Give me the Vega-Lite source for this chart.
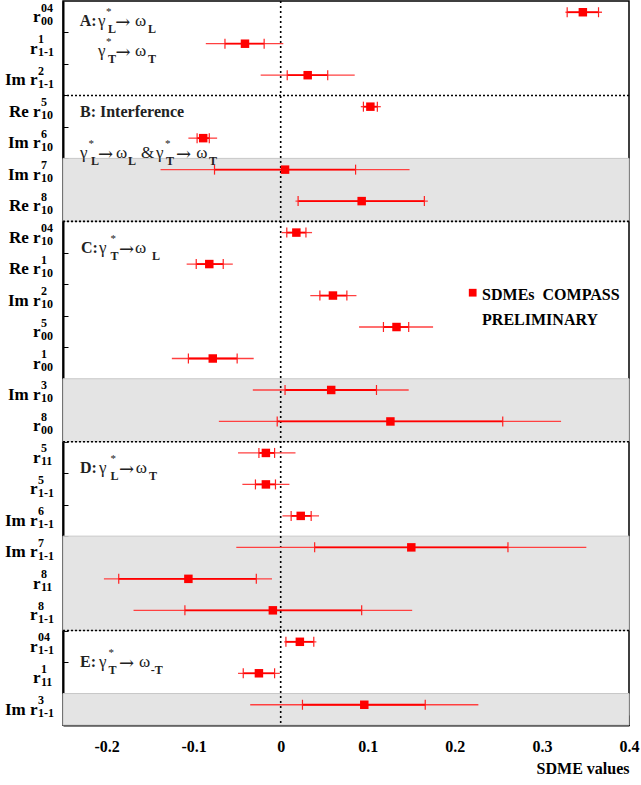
{
  "$schema": "https://vega.github.io/schema/vega-lite/v6.json",
  "autosize": "none",
  "width": 566,
  "height": 724,
  "padding": {"left": 63, "top": 1, "right": 12, "bottom": 60},
  "background": "white",
  "config": {
    "font": "Liberation Serif",
    "view": {"stroke": "#000", "strokeWidth": 1.5}
  },
  "datasets": {
    "sdme": [
      {"n": 0, "pre": "r", "sup": "04", "sub": "00", "v": 0.347, "slo": 0.329, "shi": 0.365, "tlo": 0.327, "thi": 0.369},
      {"n": 1, "pre": "r", "sup": "1", "sub": "1-1", "v": -0.041, "slo": -0.064, "shi": -0.019, "tlo": -0.086, "thi": 0.003},
      {"n": 2, "pre": "Im r", "sup": "2", "sub": "1-1", "v": 0.031, "slo": 0.0075, "shi": 0.054, "tlo": -0.023, "thi": 0.085},
      {"n": 3, "pre": "Re r", "sup": "5", "sub": "10", "v": 0.103, "slo": 0.095, "shi": 0.111, "tlo": 0.092, "thi": 0.115},
      {"n": 4, "pre": "Im r", "sup": "6", "sub": "10", "v": -0.089, "slo": -0.096, "shi": -0.082, "tlo": -0.106, "thi": -0.073},
      {"n": 5, "pre": "Im r", "sup": "7", "sub": "10", "v": 0.005, "slo": -0.076, "shi": 0.086, "tlo": -0.138, "thi": 0.148},
      {"n": 6, "pre": "Re r", "sup": "8", "sub": "10", "v": 0.093, "slo": 0.020, "shi": 0.165, "tlo": 0.017, "thi": 0.169},
      {"n": 7, "pre": "Re r", "sup": "04", "sub": "10", "v": 0.018, "slo": 0.007, "shi": 0.029, "tlo": 0.001, "thi": 0.036},
      {"n": 8, "pre": "Re r", "sup": "1", "sub": "10", "v": -0.082, "slo": -0.097, "shi": -0.066, "tlo": -0.108, "thi": -0.055},
      {"n": 9, "pre": "Im r", "sup": "2", "sub": "10", "v": 0.060, "slo": 0.045, "shi": 0.076, "tlo": 0.034, "thi": 0.087},
      {"n": 10, "pre": "r", "sup": "5", "sub": "00", "v": 0.133, "slo": 0.118, "shi": 0.147, "tlo": 0.090, "thi": 0.175},
      {"n": 11, "pre": "r", "sup": "1", "sub": "00", "v": -0.078, "slo": -0.106, "shi": -0.050, "tlo": -0.125, "thi": -0.031},
      {"n": 12, "pre": "Im r", "sup": "3", "sub": "10", "v": 0.058, "slo": 0.005, "shi": 0.110, "tlo": -0.032, "thi": 0.147},
      {"n": 13, "pre": "r", "sup": "8", "sub": "00", "v": 0.126, "slo": -0.004, "shi": 0.255, "tlo": -0.071, "thi": 0.322},
      {"n": 14, "pre": "r", "sup": "5", "sub": "11", "v": -0.017, "slo": -0.025, "shi": -0.007, "tlo": -0.049, "thi": 0.017},
      {"n": 15, "pre": "r", "sup": "5", "sub": "1-1", "v": -0.017, "slo": -0.029, "shi": -0.006, "tlo": -0.044, "thi": 0.010},
      {"n": 16, "pre": "Im r", "sup": "6", "sub": "1-1", "v": 0.023, "slo": 0.012, "shi": 0.035, "tlo": 0.002, "thi": 0.044},
      {"n": 17, "pre": "Im r", "sup": "7", "sub": "1-1", "v": 0.150, "slo": 0.039, "shi": 0.261, "tlo": -0.051, "thi": 0.351},
      {"n": 18, "pre": "r", "sup": "8", "sub": "11", "v": -0.106, "slo": -0.186, "shi": -0.028, "tlo": -0.203, "thi": -0.010},
      {"n": 19, "pre": "r", "sup": "8", "sub": "1-1", "v": -0.009, "slo": -0.110, "shi": 0.093, "tlo": -0.169, "thi": 0.151},
      {"n": 20, "pre": "r", "sup": "04", "sub": "1-1", "v": 0.022, "slo": 0.006, "shi": 0.038, "tlo": 0.004, "thi": 0.041},
      {"n": 21, "pre": "r", "sup": "1", "sub": "11", "v": -0.025, "slo": -0.043, "shi": -0.007, "tlo": -0.049, "thi": -0.001},
      {"n": 22, "pre": "Im r", "sup": "3", "sub": "1-1", "v": 0.096, "slo": 0.025, "shi": 0.166, "tlo": -0.035, "thi": 0.227}
    ],
    "shade": [
      {"from": 4.5, "to": 6.5},
      {"from": 11.5, "to": 13.5},
      {"from": 16.5, "to": 19.5},
      {"from": 21.5, "to": 22.5}
    ],
    "seps": [{"at": 2.5}, {"at": 6.5}, {"at": 13.5}, {"at": 19.5}],
    "zero": [{"at": 0}],
    "ann": [
      {"k": "b", "t": "A:", "x": -0.2308, "y": 0.304},
      {"k": "g", "t": "γ", "x": -0.2098, "y": 0.304},
      {"k": "p", "t": "*", "x": -0.2006, "y": 0.304},
      {"k": "s", "t": "L", "x": -0.1983, "y": 0.304},
      {"k": "a", "t": "→", "x": -0.1900, "y": 0.304},
      {"k": "g", "t": "ω", "x": -0.1672, "y": 0.304},
      {"k": "s", "t": "L", "x": -0.1523, "y": 0.304},
      {"k": "g", "t": "γ", "x": -0.2098, "y": 1.238},
      {"k": "p", "t": "*", "x": -0.2006, "y": 1.238},
      {"k": "s", "t": "T", "x": -0.1983, "y": 1.238},
      {"k": "a", "t": "→", "x": -0.1897, "y": 1.238},
      {"k": "g", "t": "ω", "x": -0.1672, "y": 1.238},
      {"k": "s", "t": "T", "x": -0.1523, "y": 1.238},
      {"k": "b", "t": "B: Interference", "x": -0.2305, "y": 3.176},
      {"k": "g", "t": "γ", "x": -0.2305, "y": 4.497},
      {"k": "p", "t": "*", "x": -0.2207, "y": 4.497},
      {"k": "s", "t": "L", "x": -0.2178, "y": 4.497},
      {"k": "a", "t": "→", "x": -0.2098, "y": 4.497},
      {"k": "g", "t": "ω", "x": -0.1891, "y": 4.497},
      {"k": "s", "t": "L", "x": -0.1753, "y": 4.497},
      {"k": "g", "t": "&", "x": -0.1603, "y": 4.497},
      {"k": "g", "t": "γ", "x": -0.1431, "y": 4.497},
      {"k": "p", "t": "*", "x": -0.1328, "y": 4.497},
      {"k": "s", "t": "T", "x": -0.1316, "y": 4.497},
      {"k": "a", "t": "→", "x": -0.1201, "y": 4.497},
      {"k": "g", "t": "ω", "x": -0.0971, "y": 4.497},
      {"k": "s", "t": "T", "x": -0.0822, "y": 4.497},
      {"k": "b", "t": "C:", "x": -0.2294, "y": 7.515},
      {"k": "g", "t": "γ", "x": -0.2086, "y": 7.515},
      {"k": "p", "t": "*", "x": -0.1954, "y": 7.515},
      {"k": "s", "t": "T", "x": -0.1954, "y": 7.515},
      {"k": "a", "t": "→", "x": -0.1856, "y": 7.515},
      {"k": "g", "t": "ω", "x": -0.1672, "y": 7.515},
      {"k": "s", "t": "L", "x": -0.1477, "y": 7.515},
      {"k": "b", "t": "D:", "x": -0.2305, "y": 14.504},
      {"k": "g", "t": "γ", "x": -0.2086, "y": 14.504},
      {"k": "p", "t": "*", "x": -0.1954, "y": 14.504},
      {"k": "s", "t": "L", "x": -0.1954, "y": 14.504},
      {"k": "a", "t": "→", "x": -0.1856, "y": 14.504},
      {"k": "g", "t": "ω", "x": -0.1664, "y": 14.504},
      {"k": "s", "t": "T", "x": -0.1511, "y": 14.504},
      {"k": "b", "t": "E:", "x": -0.2305, "y": 20.648},
      {"k": "g", "t": "γ", "x": -0.2086, "y": 20.648},
      {"k": "p", "t": "*", "x": -0.1977, "y": 20.648},
      {"k": "s", "t": "T", "x": -0.1977, "y": 20.648},
      {"k": "a", "t": "→", "x": -0.1856, "y": 20.648},
      {"k": "g", "t": "ω", "x": -0.1626, "y": 20.648},
      {"k": "s", "t": "-T", "x": -0.1492, "y": 20.648},
      {"k": "l", "t": "SDMEs\u00a0\u00a0COMPASS", "x": 0.2313, "y": 8.999},
      {"k": "l", "t": "PRELIMINARY", "x": 0.2313, "y": 9.793},
      {"k": "m", "t": "", "x": 0.2205, "y": 8.767}
    ]
  },
  "encoding": {
    "x": {
      "type": "quantitative",
      "scale": {"domain": [-0.25, 0.4], "nice": false, "zero": false},
      "axis": {
        "title": "SDME values",
        "titleFont": "Liberation Serif",
        "titleFontSize": 16,
        "titleFontWeight": "bold",
        "titleColor": "#000",
        "titleAnchor": "end",
        "titleAlign": "right",
        "titlePadding": 1,
        "values": [-0.24, -0.22, -0.2, -0.18, -0.16, -0.14, -0.12, -0.1, -0.08, -0.06, -0.04, -0.02, 0, 0.02, 0.04, 0.06, 0.08, 0.1, 0.12, 0.14, 0.16, 0.18, 0.2, 0.22, 0.24, 0.26, 0.28, 0.3, 0.32, 0.34, 0.36, 0.38, 0.4],
        "labelExpr": "abs(datum.value*10 - round(datum.value*10)) < 0.001 ? '' + (round(datum.value*10)/10) : ''",
        "labelFont": "Liberation Serif",
        "labelFontSize": 16,
        "labelFontWeight": "bold",
        "labelColor": "#000",
        "labelFlush": false,
        "labelOverlap": false,
        "labelPadding": 23,
        "tickSize": {"condition": {"test": "abs(datum.value*10 - round(datum.value*10)) < 0.001", "value": -10}, "value": -5},
        "tickColor": "#000",
        "tickWidth": 1,
        "domainColor": "#000",
        "domainWidth": 2,
        "grid": false
      }
    },
    "y": {
      "type": "quantitative",
      "scale": {"domain": [-0.5, 22.5], "nice": false, "zero": false, "reverse": true},
      "axis": {
        "title": null,
        "labels": false,
        "values": [0.5, 1.5, 2.5, 3.5, 4.5, 5.5, 6.5, 7.5, 8.5, 9.5, 10.5, 11.5, 12.5, 13.5, 14.5, 15.5, 16.5, 17.5, 18.5, 19.5, 20.5, 21.5],
        "tickSize": -5,
        "tickColor": "#000",
        "domainColor": "#000",
        "domainWidth": 2,
        "grid": false
      }
    }
  },
  "layer": [
    {
      "data": {"name": "shade"},
      "mark": {"type": "rect", "fill": "#e4e4e4", "stroke": "#c8c8c8", "strokeWidth": 1},
      "encoding": {
        "x": {"datum": -0.25, "type": "quantitative"},
        "x2": {"datum": 0.4},
        "y": {"field": "from", "type": "quantitative"},
        "y2": {"field": "to"}
      }
    },
    {
      "data": {"name": "seps"},
      "mark": {"type": "rule", "color": "#000", "strokeWidth": 1.6, "strokeDash": [2, 2]},
      "encoding": {"y": {"field": "at", "type": "quantitative"}}
    },
    {
      "data": {"name": "zero"},
      "mark": {"type": "rule", "color": "#000", "strokeWidth": 1.6, "strokeDash": [2, 3]},
      "encoding": {"x": {"field": "at", "type": "quantitative"}}
    },
    {
      "data": {"name": "sdme"},
      "mark": {"type": "rule", "color": "#ff4040", "strokeWidth": 1.3, "yOffset": -4.5},
      "encoding": {
        "x": {"field": "tlo", "type": "quantitative"},
        "x2": {"field": "thi"},
        "y": {"field": "n", "type": "quantitative"}
      }
    },
    {
      "data": {"name": "sdme"},
      "mark": {"type": "rule", "color": "#ff0000", "strokeWidth": 1.8, "yOffset": -4.5},
      "encoding": {
        "x": {"field": "slo", "type": "quantitative"},
        "x2": {"field": "shi"},
        "y": {"field": "n", "type": "quantitative"}
      }
    },
    {
      "data": {"name": "sdme"},
      "mark": {"type": "tick", "orient": "vertical", "color": "#ff2020", "size": 10, "thickness": 1.2, "yOffset": -4.5, "opacity": 1},
      "encoding": {
        "x": {"field": "slo", "type": "quantitative"},
        "y": {"field": "n", "type": "quantitative"}
      }
    },
    {
      "data": {"name": "sdme"},
      "mark": {"type": "tick", "orient": "vertical", "color": "#ff2020", "size": 10, "thickness": 1.2, "yOffset": -4.5, "opacity": 1},
      "encoding": {
        "x": {"field": "shi", "type": "quantitative"},
        "y": {"field": "n", "type": "quantitative"}
      }
    },
    {
      "data": {"name": "sdme"},
      "mark": {"type": "point", "shape": "square", "filled": true, "color": "#ff0000", "size": 72, "opacity": 1, "yOffset": -4.5},
      "encoding": {
        "x": {"field": "v", "type": "quantitative"},
        "y": {"field": "n", "type": "quantitative"}
      }
    },
    {
      "data": {"name": "sdme"},
      "mark": {"type": "text", "align": "right", "baseline": "alphabetic", "font": "Liberation Serif", "fontSize": 17, "fontWeight": "bold", "color": "#000", "dy": 5.5, "dx": {"expr": "datum.sub === '1-1' ? -25.5 : -22.5"}},
      "encoding": {
        "x": {"datum": -0.25, "type": "quantitative"},
        "y": {"field": "n", "type": "quantitative"},
        "text": {"field": "pre"}
      }
    },
    {
      "data": {"name": "sdme"},
      "mark": {"type": "text", "align": "left", "baseline": "alphabetic", "font": "Liberation Serif", "fontSize": 12, "fontWeight": "bold", "color": "#000", "dy": -5, "dx": {"expr": "datum.sub === '1-1' ? -25 : -22"}},
      "encoding": {
        "x": {"datum": -0.25, "type": "quantitative"},
        "y": {"field": "n", "type": "quantitative"},
        "text": {"field": "sup"}
      }
    },
    {
      "data": {"name": "sdme"},
      "mark": {"type": "text", "align": "left", "baseline": "alphabetic", "font": "Liberation Serif", "fontSize": 12, "fontWeight": "bold", "color": "#000", "dy": 8, "dx": {"expr": "datum.sub === '1-1' ? -25 : -22"}},
      "encoding": {
        "x": {"datum": -0.25, "type": "quantitative"},
        "y": {"field": "n", "type": "quantitative"},
        "text": {"field": "sub"}
      }
    },
    {
      "data": {"name": "ann"},
      "transform": [{"filter": "datum.k === 'b'"}],
      "mark": {"type": "text", "align": "left", "baseline": "alphabetic", "font": "Liberation Serif", "fontSize": 16, "fontWeight": "bold", "color": "#222"},
      "encoding": {
        "x": {"field": "x", "type": "quantitative"},
        "y": {"field": "y", "type": "quantitative"},
        "text": {"field": "t"}
      }
    },
    {
      "data": {"name": "ann"},
      "transform": [{"filter": "datum.k === 'g'"}],
      "mark": {"type": "text", "align": "left", "baseline": "alphabetic", "font": "Liberation Serif", "fontSize": 17, "color": "#222"},
      "encoding": {
        "x": {"field": "x", "type": "quantitative"},
        "y": {"field": "y", "type": "quantitative"},
        "text": {"field": "t"}
      }
    },
    {
      "data": {"name": "ann"},
      "transform": [{"filter": "datum.k === 'a'"}],
      "mark": {"type": "text", "align": "left", "baseline": "alphabetic", "font": "DejaVu Serif", "fontSize": 18, "color": "#222", "dy": 2},
      "encoding": {
        "x": {"field": "x", "type": "quantitative"},
        "y": {"field": "y", "type": "quantitative"},
        "text": {"field": "t"}
      }
    },
    {
      "data": {"name": "ann"},
      "transform": [{"filter": "datum.k === 'p'"}],
      "mark": {"type": "text", "align": "left", "baseline": "alphabetic", "font": "Liberation Serif", "fontSize": 11, "color": "#222", "dy": -11},
      "encoding": {
        "x": {"field": "x", "type": "quantitative"},
        "y": {"field": "y", "type": "quantitative"},
        "text": {"field": "t"}
      }
    },
    {
      "data": {"name": "ann"},
      "transform": [{"filter": "datum.k === 's'"}],
      "mark": {"type": "text", "align": "left", "baseline": "alphabetic", "font": "Liberation Serif", "fontSize": 12, "fontWeight": "bold", "color": "#222", "dy": 7},
      "encoding": {
        "x": {"field": "x", "type": "quantitative"},
        "y": {"field": "y", "type": "quantitative"},
        "text": {"field": "t"}
      }
    },
    {
      "data": {"name": "ann"},
      "transform": [{"filter": "datum.k === 'l'"}],
      "mark": {"type": "text", "align": "left", "baseline": "alphabetic", "font": "Liberation Serif", "fontSize": 16, "fontWeight": "bold", "color": "#000"},
      "encoding": {
        "x": {"field": "x", "type": "quantitative"},
        "y": {"field": "y", "type": "quantitative"},
        "text": {"field": "t"}
      }
    },
    {
      "data": {"name": "ann"},
      "transform": [{"filter": "datum.k === 'm'"}],
      "mark": {"type": "point", "shape": "square", "filled": true, "color": "#ff0000", "size": 60, "opacity": 1},
      "encoding": {
        "x": {"field": "x", "type": "quantitative"},
        "y": {"field": "y", "type": "quantitative"}
      }
    }
  ]
}
